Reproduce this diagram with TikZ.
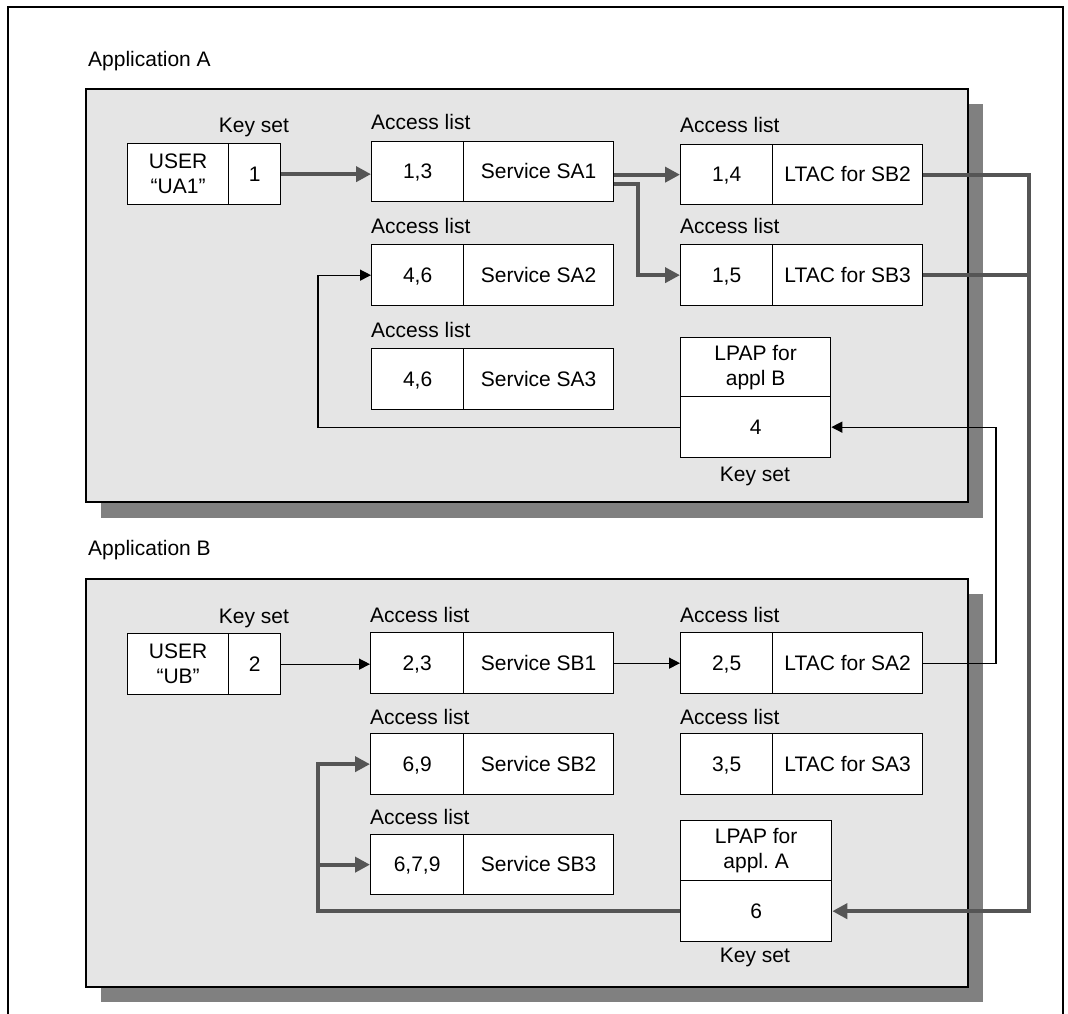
\documentclass[tikz,border=0pt]{standalone}
\usepackage{fontspec}
\setmainfont{Liberation Sans}
\usetikzlibrary{arrows.meta}
\definecolor{panelgray}{HTML}{E5E5E5}
\definecolor{shadowgray}{HTML}{808080}
\definecolor{conn}{HTML}{555555}
\newcommand\lblfont{\fontsize{21}{25}\selectfont}
\tikzset{
  cell/.style={draw=black, line width=1.3pt, fill=white, inner sep=0pt, anchor=north west, align=center, font=\lblfont},
  onecell/.style={cell, text height=14pt, text depth=0pt},
  panelbox/.style={draw=black, line width=1.8pt, fill=panelgray},
  shadowbox/.style={fill=shadowgray},
  lbl/.style={inner sep=0pt, font=\lblfont},
  lightline/.style={line width=1.3pt, draw=black},
  lightarrow/.style={lightline, -{Triangle[length=11pt,width=11pt]}},
  heavyline/.style={line width=4pt, draw=conn},
  heavyarrow/.style={heavyline, -{Triangle[length=15pt,width=15pt]}},
}
\begin{document}
\begin{tikzpicture}[x=1pt,y=-1pt]
\useasboundingbox (0,0) rectangle (1068,1014);
% outer frame (open at the bottom)
\draw[line width=1.8pt] (8,1014) -- (8,7) -- (1063,7) -- (1063,1014);

% ---------- Application A ----------
\node[lbl, anchor=base west] (appA) at (88,67) {Application A};
\fill[shadowbox] (101,104) rectangle (983,518);
\draw[panelbox] (86,89) rectangle (968,502);

\node[lbl, anchor=base] (ksA) at (254,133) {Key set};
\node[cell, minimum width=101, minimum height=61] (ua1user) at (127,143) {USER\\“UA1”};
\node[onecell, minimum width=52, minimum height=61] (ua1key) at (228,143) {1};

\node[lbl, anchor=base west] (alA1) at (371,130) {Access list};
\node[onecell, minimum width=92, minimum height=60] (a13n) at (371,141) {1,3};
\node[onecell, minimum width=150, minimum height=60] (sa1) at (463,141) {Service SA1};

\node[lbl, anchor=base west] (alA2) at (680,133) {Access list};
\node[onecell, minimum width=92, minimum height=60] (a14n) at (680,144) {1,4};
\node[onecell, minimum width=150, minimum height=60] (ltsb2) at (772,144) {LTAC for SB2};

\node[lbl, anchor=base west] (alA3) at (371,233) {Access list};
\node[onecell, minimum width=92, minimum height=61] (a46n) at (371,244) {4,6};
\node[onecell, minimum width=150, minimum height=61] (sa2) at (463,244) {Service SA2};

\node[lbl, anchor=base west] (alA4) at (680,233) {Access list};
\node[onecell, minimum width=92, minimum height=61] (a15n) at (680,244) {1,5};
\node[onecell, minimum width=150, minimum height=61] (ltsb3) at (772,244) {LTAC for SB3};

\node[lbl, anchor=base west] (alA5) at (371,337) {Access list};
\node[onecell, minimum width=92, minimum height=61] (a46bn) at (371,348) {4,6};
\node[onecell, minimum width=150, minimum height=61] (sa3) at (463,348) {Service SA3};

\node[cell, minimum width=150, minimum height=59] (lpapb) at (680,337) {LPAP for\\appl B};
\node[onecell, minimum width=150, minimum height=61] (lpapbkey) at (680,396) {4};
\node[lbl, anchor=base] (ksA2) at (755,481) {Key set};

% ---------- Application B ----------
\node[lbl, anchor=base west] (appB) at (88,555) {Application B};
\fill[shadowbox] (101,594) rectangle (983,1002);
\draw[panelbox] (86,579) rectangle (968,987);

\node[lbl, anchor=base] (ksB) at (254,623) {Key set};
\node[cell, minimum width=101, minimum height=61] (ubuser) at (127,633) {USER\\“UB”};
\node[onecell, minimum width=52, minimum height=61] (ubkey) at (228,633) {2};

\node[lbl, anchor=base west] (alB1) at (370,622) {Access list};
\node[onecell, minimum width=93, minimum height=61] (b23n) at (370,632) {2,3};
\node[onecell, minimum width=150, minimum height=61] (sb1) at (463,632) {Service SB1};

\node[lbl, anchor=base west] (alB2) at (680,622) {Access list};
\node[onecell, minimum width=92, minimum height=61] (b25n) at (680,632) {2,5};
\node[onecell, minimum width=150, minimum height=61] (ltsa2) at (772,632) {LTAC for SA2};

\node[lbl, anchor=base west] (alB3) at (370,724) {Access list};
\node[onecell, minimum width=93, minimum height=61] (b69n) at (370,733) {6,9};
\node[onecell, minimum width=150, minimum height=61] (sb2) at (463,733) {Service SB2};

\node[lbl, anchor=base west] (alB4) at (680,724) {Access list};
\node[onecell, minimum width=92, minimum height=61] (b35n) at (680,733) {3,5};
\node[onecell, minimum width=150, minimum height=61] (ltsa3) at (772,733) {LTAC for SA3};

\node[lbl, anchor=base west] (alB5) at (370,824) {Access list};
\node[onecell, minimum width=93, minimum height=60] (b679n) at (370,834) {6,7,9};
\node[onecell, minimum width=150, minimum height=60] (sb3) at (463,834) {Service SB3};

\node[cell, minimum width=151, minimum height=60] (lpapa) at (680,820) {LPAP for\\appl.\ A};
\node[onecell, minimum width=151, minimum height=61] (lpapakey) at (680,880) {6};
\node[lbl, anchor=base] (ksB2) at (755,962) {Key set};

% ---------- connectors ----------
\coordinate (busx) at (1029,0);
\coordinate (thinx) at (996,0);
\coordinate (leftx) at (318,0);

% Application A
\draw[heavyarrow] (ua1key.east) -- (ua1key.east -| a13n.west);
\draw[heavyarrow] (sa1.east |- a14n.west) -- (a14n.west);
\draw[heavyarrow] ([yshift=-12.5pt]sa1.east) -- ++(24,0) |- (a15n.west);
\draw[lightarrow] (lpapbkey.west) -| (leftx |- a46n.west) -- (a46n.west);

% links between the applications
\draw[heavyarrow] (ltsb2.east) -| (lpapakey.east -| busx) -- (lpapakey.east);
\draw[heavyline] (ltsb3.east) -- (ltsb3.east -| busx);
\draw[lightarrow] (ltsa2.east) -| (lpapbkey.east -| thinx) -- (lpapbkey.east);

% Application B
\draw[lightarrow] (ubkey.east) -- (ubkey.east -| b23n.west);
\draw[lightarrow] (sb1.east) -- (sb1.east -| b25n.west);
\draw[heavyarrow] (lpapakey.west) -| (leftx |- b69n.west) -- (b69n.west);
\draw[heavyarrow] (b679n.west -| leftx) -- (b679n.west);
\end{tikzpicture}
\end{document}
